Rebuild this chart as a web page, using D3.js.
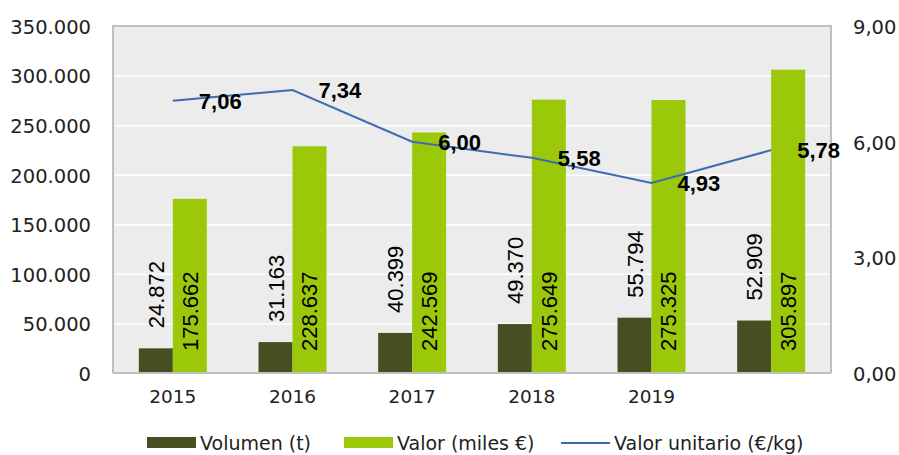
<!DOCTYPE html>
<html><head><meta charset="utf-8">
<script src="https://cdn.jsdelivr.net/npm/d3@7"></script>
<style>
html,body{margin:0;padding:0;background:#fff;}
svg{display:block;}
</style></head>
<body>
<svg id="chart" width="899" height="455"></svg>
<script>
const categories = ["2015","2016","2017","2018","2019",""];
const volumen = [24872, 31163, 40399, 49370, 55794, 52909];
const valor = [175662, 228637, 242569, 275649, 275325, 305897];
const unitario = [7.06, 7.34, 6.00, 5.58, 4.93, 5.78];
const leftTicks = [0, 50000, 100000, 150000, 200000, 250000, 300000, 350000];
const rightTicks = [0, 3, 6, 9];
const seriesNames = ["Volumen (t)", "Valor (miles €)", "Valor unitario (€/kg)"];

const loc = d3.formatLocale({decimal:",", thousands:".", grouping:[3], currency:["","€"]});
const fmtInt = loc.format(",d");
const fmt2 = loc.format(",.2f");

const C_DARK = "#474e21", C_GREEN = "#9bc809", C_LINE = "#3d6cb2";
const AX_FONT = "DejaVu Sans";

const svg = d3.select("#chart");
const L = 113, R = 831, T = 26, B = 373;

const x0 = d3.scaleBand().domain(categories.map((c,i)=>i)).range([L, R]).paddingInner(0.432).paddingOuter(0.216);
const x1 = d3.scaleBand().domain([0,1]).range([0, x0.bandwidth()]);
const yL = d3.scaleLinear().domain([0, 350000]).range([B, T]);
const yR = d3.scaleLinear().domain([0, 9]).range([B, T]);

// plot background
svg.append("rect").attr("x", L).attr("y", T).attr("width", R-L).attr("height", B-T)
  .attr("fill", "#ececec");

// gridlines
svg.append("g").attr("transform", `translate(${L},0)`)
  .call(d3.axisLeft(yL).tickValues(leftTicks.slice(1, -1)).tickSize(-(R-L)).tickFormat(""))
  .call(g => g.select(".domain").remove())
  .call(g => g.selectAll("line").attr("stroke", "#ffffff").attr("stroke-width", 1.5));

// border
svg.append("path").attr("d", `M${L},${B}V${T}H${R}V${B}`).attr("fill","none")
  .attr("stroke", "#bfbfbf").attr("stroke-width", 2);

// bars
const gBars = svg.append("g");
categories.forEach((c, i) => {
  [volumen[i], valor[i]].forEach((v, j) => {
    gBars.append("rect")
      .attr("x", x0(i) + x1(j))
      .attr("y", yL(v))
      .attr("width", x1.bandwidth())
      .attr("height", yL(0) - yL(v))
      .attr("fill", j === 0 ? C_DARK : C_GREEN);
  });
});

// baseline
svg.append("line").attr("x1", L).attr("x2", R).attr("y1", B).attr("y2", B)
  .attr("stroke", "#bfbfbf").attr("stroke-width", 2);

// bar labels
const gLab = svg.append("g").attr("font-family", "Liberation Sans, Arial, sans-serif")
  .attr("font-size", 22).attr("fill", "#000");
categories.forEach((c, i) => {
  const cx0 = x0(i) + x1(0) + x1.bandwidth()/2;
  const y0 = yL(volumen[i]) - 20;
  gLab.append("text").attr("transform", `translate(${cx0 + 8},${y0}) rotate(-90)`)
    .text(fmtInt(volumen[i]));
  const cx1 = x0(i) + x1(1) + x1.bandwidth()/2;
  gLab.append("text").attr("transform", `translate(${cx1 + 8},${yL(0) - 22}) rotate(-90)`)
    .text(fmtInt(valor[i]));
});

// line
const lineGen = d3.line().x((d,i)=>x0(i) + x0.bandwidth()/2).y(d=>yR(d));
svg.append("path").datum(unitario).attr("d", lineGen).attr("fill","none")
  .attr("stroke", C_LINE).attr("stroke-width", 2);

// line labels
svg.append("g").attr("font-family", "Liberation Sans, Arial, sans-serif")
  .attr("font-size", 22).attr("font-weight", "bold").attr("fill", "#000")
  .selectAll("text").data(unitario).join("text")
  .attr("x", (d,i)=>x0(i) + x0.bandwidth()/2 + 26)
  .attr("y", d=>yR(d) + 8)
  .text(d=>fmt2(d));

// left axis
svg.append("g").attr("transform", `translate(${L},0)`)
  .call(d3.axisLeft(yL).tickValues(leftTicks).tickSize(0).tickPadding(22).tickFormat(fmtInt))
  .call(g => g.select(".domain").remove())
  .call(g => g.selectAll("text").attr("font-family", AX_FONT).attr("font-size", 19.5).attr("fill", "#222").attr("dy","0.38em"));

// right axis
svg.append("g").attr("transform", `translate(${R},0)`)
  .call(d3.axisRight(yR).tickValues(rightTicks).tickSize(0).tickPadding(22).tickFormat(fmt2))
  .call(g => g.select(".domain").remove())
  .call(g => g.selectAll("text").attr("font-family", AX_FONT).attr("font-size", 19.5).attr("fill", "#222").attr("dy","0.38em"));

// x axis labels
svg.append("g").attr("transform", `translate(0,${B})`)
  .call(d3.axisBottom(x0).tickSize(0).tickPadding(17).tickFormat(i=>categories[i]))
  .call(g => g.select(".domain").remove())
  .call(g => g.selectAll("text").attr("font-family", AX_FONT).attr("font-size", 18.5).attr("fill", "#222"));

// legend
const lg = svg.append("g").attr("font-family", AX_FONT).attr("font-size", 19).attr("fill", "#222");
const legendItems = [
  {name: seriesNames[0], type: "rect", color: C_DARK, x: 147},
  {name: seriesNames[1], type: "rect", color: C_GREEN, x: 344},
  {name: seriesNames[2], type: "line", color: C_LINE, x: 561}
];
legendItems.forEach(it => {
  if (it.type === "rect") {
    lg.append("rect").attr("x", it.x).attr("y", 437).attr("width", 49).attr("height", 11).attr("fill", it.color);
  } else {
    lg.append("line").attr("x1", it.x).attr("x2", it.x + 49).attr("y1", 443).attr("y2", 443)
      .attr("stroke", it.color).attr("stroke-width", 2);
  }
  lg.append("text").attr("x", it.x + 53).attr("y", 443).attr("dy", "0.36em").text(it.name);
});
</script>
</body></html>
